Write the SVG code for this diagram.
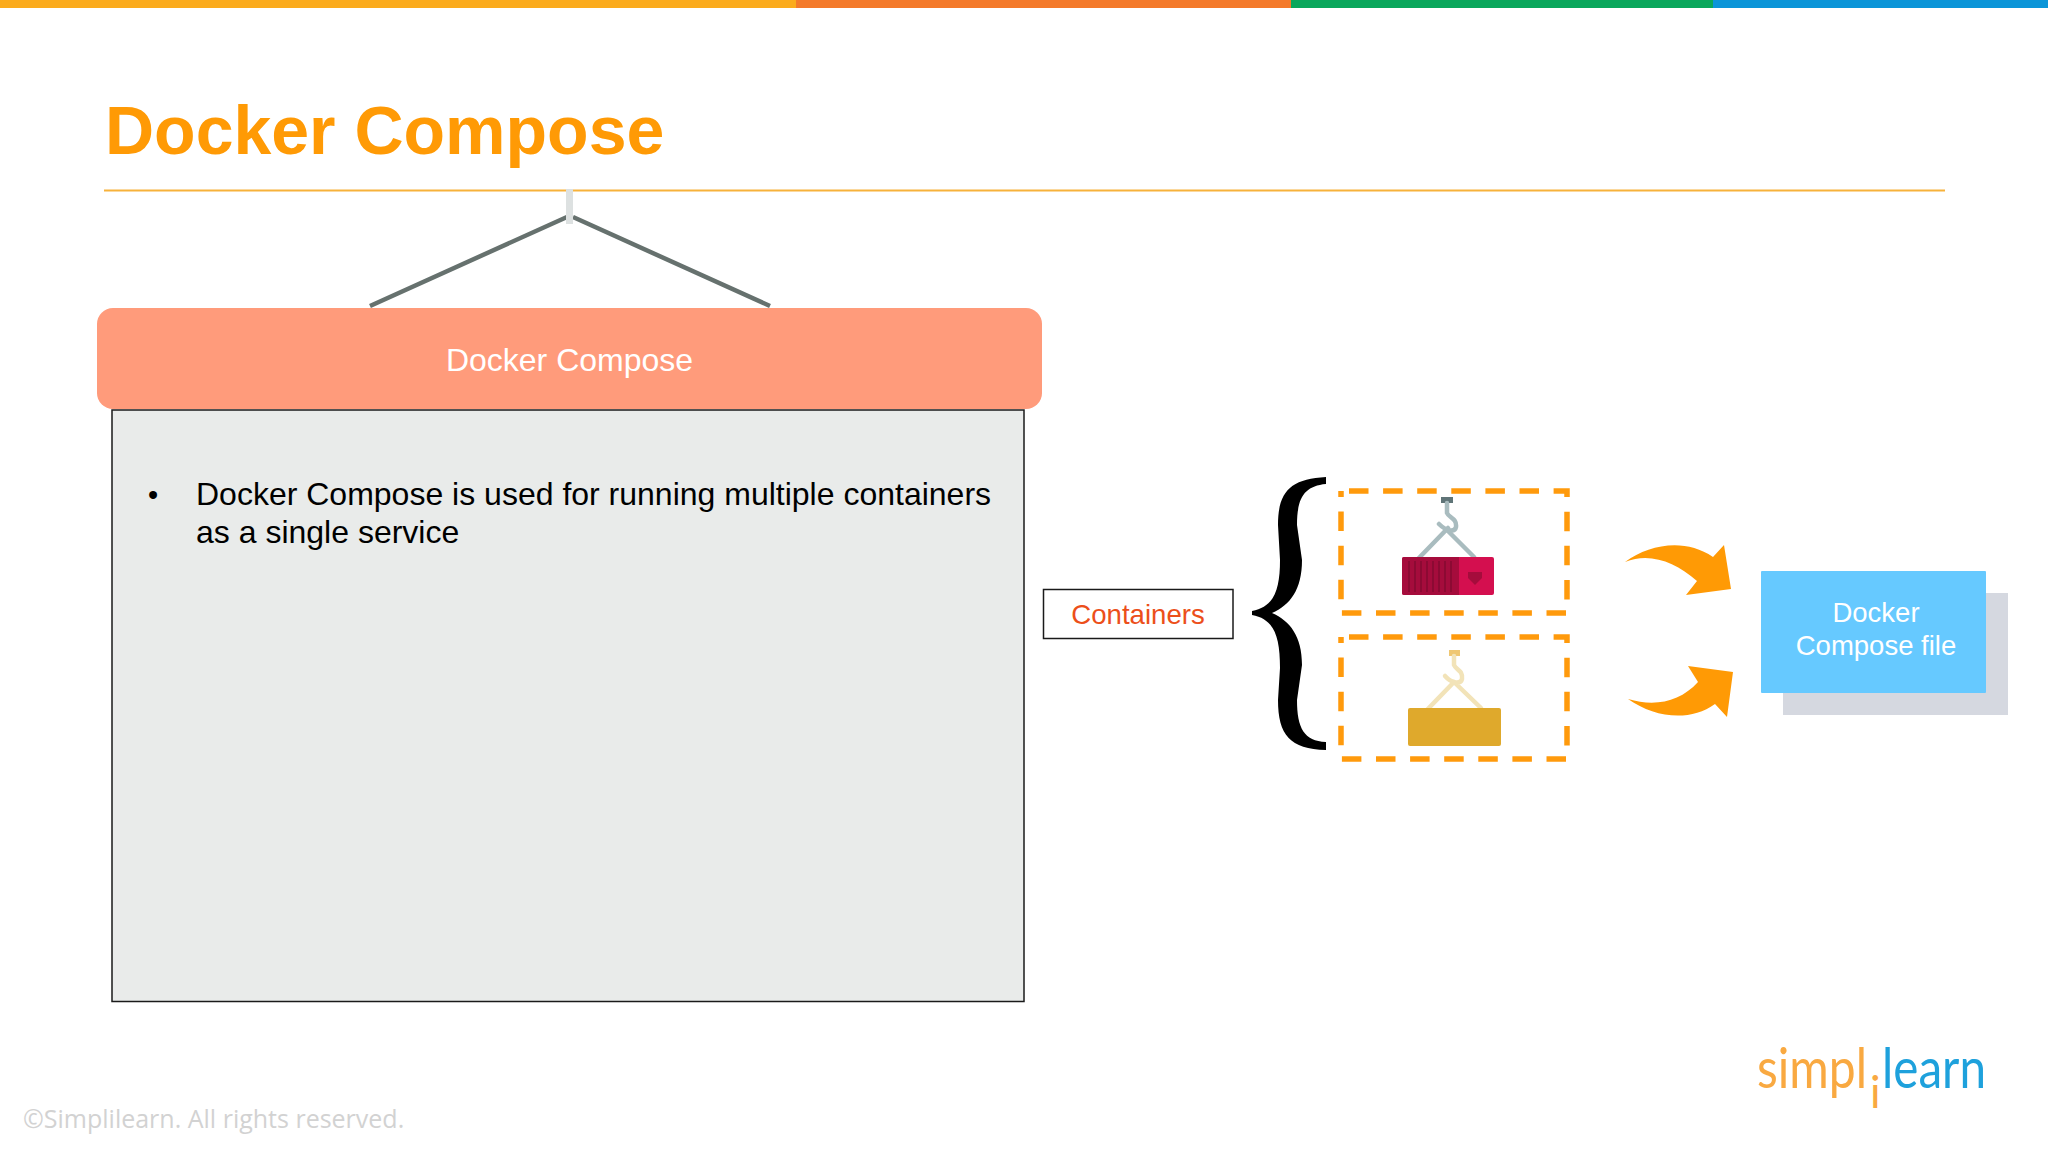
<svg xmlns="http://www.w3.org/2000/svg" width="2048" height="1152" viewBox="0 0 2048 1152">
<style>
text{font-family:"Liberation Sans",Arial,sans-serif}
.dash{fill:none;stroke:#ff9a0c;stroke-width:5.5;stroke-dasharray:19.5 14.6}
.wire{fill:none;stroke:#66716e;stroke-width:4.500}
.arrow{fill:#ff9a05}
.w{fill:#fff;text-anchor:middle}
.steel{fill:none;stroke:#a9bcbf;stroke-width:4.500;stroke-linecap:round}
.pale{fill:none;stroke:#f2e3b8;stroke-width:4.500;stroke-linecap:round}
.logo{font-family:Lato,sans-serif}
</style>
<rect width="2048" height="1152" fill="#fff"/>
<g id="topbar">
<rect x="0" y="0" width="796" height="8" fill="#fbab1c"/>
<rect x="796" y="0" width="495" height="8" fill="#f47a2a"/>
<rect x="1291" y="0" width="422" height="8" fill="#0aa75c"/>
<rect x="1713" y="0" width="335" height="8" fill="#0b95d8"/>
</g>
<g id="title">
<text x="105" y="154" font-size="68" font-weight="700" fill="#ff9a05">Docker Compose</text>
<rect x="104" y="189.500" width="1841" height="2" fill="#f7b23b"/>
</g>
<g id="hanger">
<path class="wire" d="M370 306L567 217M573 217L770 306"/>
<rect x="566" y="189" width="7" height="35" fill="#dde1e1"/>
</g>
<g id="panel">
<rect x="112" y="410" width="912" height="591.500" fill="#e9ebea" stroke="#1a1a1a" stroke-width="1.500"/>
<text x="148" y="505" font-size="29" fill="#000">•</text>
<text x="196" y="505" font-size="32" fill="#000">Docker Compose is used for running multiple containers</text>
<text x="196" y="543" font-size="32" fill="#000">as a single service</text>
</g>
<g id="banner">
<rect x="97" y="308" width="945" height="101" rx="16" fill="#ff9b7b"/>
<text class="w" x="569.500" y="371" font-size="32">Docker Compose</text>
</g>
<g id="containers-label">
<rect x="1043.500" y="589.500" width="189.500" height="49" fill="#fff" stroke="#1a1a1a" stroke-width="1.500"/>
<text x="1138" y="624" font-size="27.600" text-anchor="middle" fill="#ec4f1a">Containers</text>
</g>
<g id="brace">
<path fill="#000" d="M1326 477C1290 479 1278 492 1278 525L1280 560C1280 590 1274 607 1252 611L1252 615C1274 619 1280 636 1280 668L1278 700C1278 735 1290 749 1326 750L1326 742C1304 741 1297 728 1297 700L1302 665C1302 636 1290 621 1272 613C1290 605 1302 590 1302 560L1297 525C1297 498 1304 486 1326 484Z"/>
</g>
<g id="container-red">
<rect class="dash" x="1341" y="491" width="226" height="122" stroke-dashoffset="-8"/>
<rect x="1441" y="497" width="12" height="6" fill="#5f7477"/>
<path class="steel" d="M1447 503L1447 513C1449 518 1457 518 1456 527C1455 532 1447 532 1439 524M1416 561L1448 528M1474 557L1447 530"/>
<rect x="1402" y="557" width="92" height="38" rx="2" fill="#d40f4f"/>
<path d="M1402 559a2 2 0 0 1 2-2H1459V595H1404a2 2 0 0 1-2-2Z" fill="#a50c3c"/>
<path d="M1409 561V592M1415 561V592M1421 561V592M1427 561V592M1433 561V592M1439 561V592M1445 561V592M1451 561V592" stroke="#8c0a33" stroke-width="2" fill="none"/>
<path d="M1468 572H1482L1482 578L1475 585L1468 578Z" fill="#a50c3c"/>
</g>
<g id="container-yellow">
<rect class="dash" x="1341" y="637" width="226" height="122" stroke-dashoffset="-8"/>
<rect x="1449" y="650" width="11" height="6" fill="#efc772"/>
<path class="pale" d="M1454 656L1454 665C1456 670 1463 670 1462 679C1461 684 1452 684 1445 676M1423 714L1454 682M1481 708L1454 682"/>
<rect x="1408" y="708" width="93" height="38" rx="2" fill="#dfa92c"/>
</g>
<g id="connectors">
<path class="arrow" d="M1625 562C1650 544 1685 538 1713 557L1724 545L1731 589L1686 595L1697 581C1675 562 1650 552 1625 562Z"/>
<path class="arrow" d="M1628 699C1655 707 1680 702 1698 682L1688 666L1733 672L1727 717L1715 704C1690 722 1655 718 1628 699Z"/>
</g>
<g id="compose-file">
<rect x="1783" y="593" width="225" height="122" fill="#d5d8e0"/>
<rect x="1761" y="571" width="225" height="122" rx="1" fill="#66c9ff"/>
<text class="w" x="1876" y="622" font-size="27.500">Docker</text>
<text class="w" x="1876" y="655" font-size="27.500">Compose file</text>
</g>
<g id="logo">
<text class="logo" x="1757" y="1088" font-size="56" textLength="110" lengthAdjust="spacingAndGlyphs" fill="#f9a941">simpl</text>
<text class="logo" x="1870" y="1108" font-size="44" fill="#f9a941">i</text>
<text class="logo" x="1882" y="1088" font-size="56" textLength="104" lengthAdjust="spacingAndGlyphs" fill="#1ea1dc">learn</text>
</g>
<text id="copyright" x="23" y="1128" style="font-family:'Open Sans',sans-serif" font-size="25" fill="#d2d2d2">©Simplilearn. All rights reserved.</text>
</svg>
